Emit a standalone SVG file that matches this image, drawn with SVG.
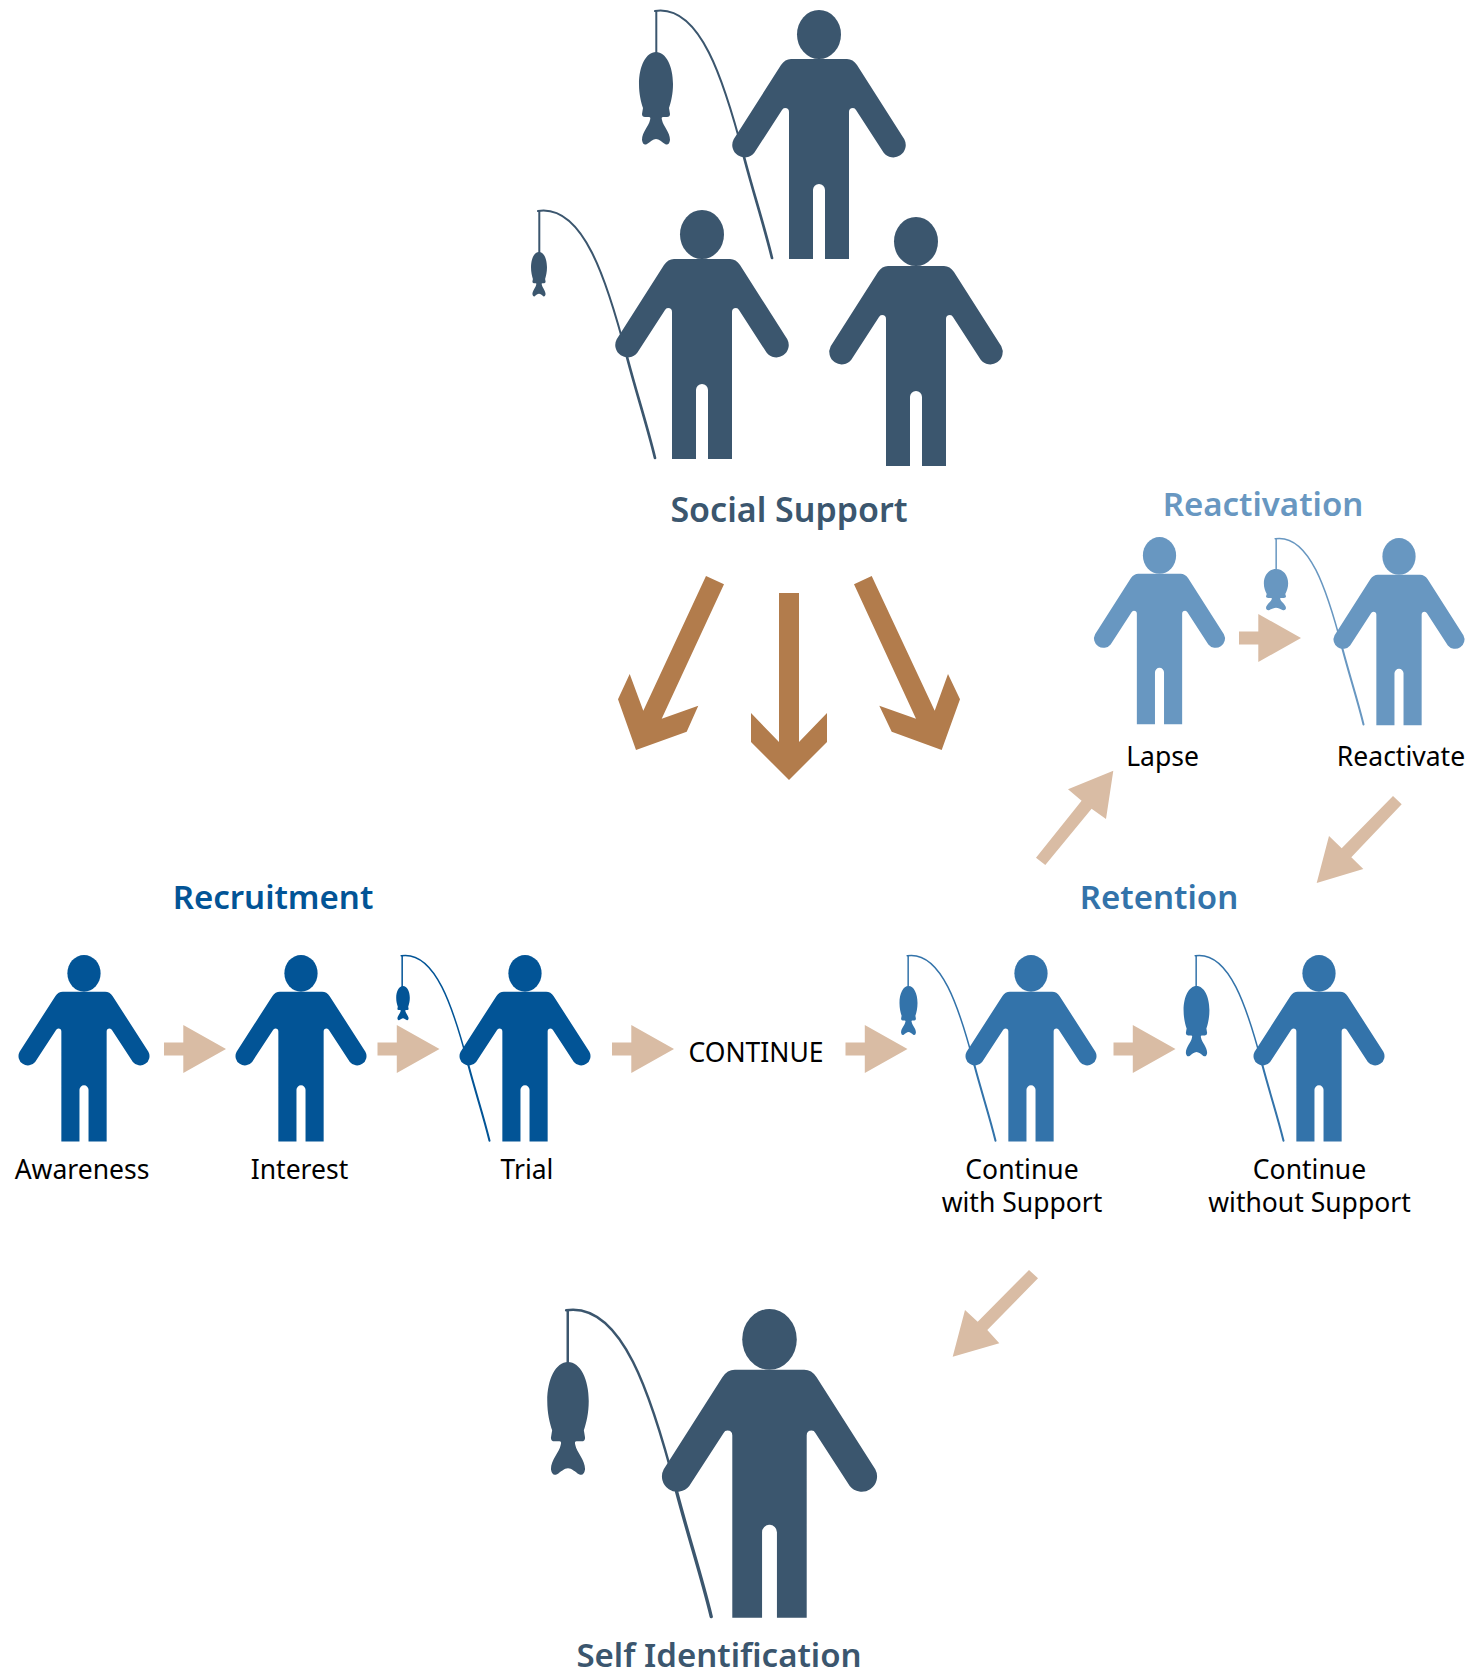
<svg xmlns="http://www.w3.org/2000/svg" width="1483" height="1668" viewBox="0 0 1483 1668">
<style>
text{font-family:"Noto Sans","Open Sans","Liberation Sans",sans-serif}
.l{font-size:26.5px;fill:#000;text-anchor:middle}
.h{font-size:33px;font-weight:600;text-anchor:middle}
.a{fill:#d9bca4}
.b{fill:#b27c4c}
.rod{fill:none;stroke:currentColor;stroke-linecap:round}
.dark{fill:#3b566e;color:#3b566e}
.navy{fill:#025496;color:#025496}
.mid{fill:#3373aa;color:#3373aa}
.light{fill:#6897c1;color:#6897c1}
</style>
<defs>
<g id="person"><ellipse cx="0" cy="24.5" rx="22" ry="24.5"/><path d="M-30,249V102Q-30,98 -34,98Q-36,98 -37,100L-64.700,142.800A12.400,12.400 0 0 1 -85.300,129.200L-38,55Q-34,49 -28,49H28Q34,49 38,55L85.300,129.200A12.400,12.400 0 0 1 64.700,142.800L37,100Q36,98 34,98Q30,98 30,102V249H6V180A6,6 0 0 0 -6,180V249Z"/></g>
<g id="rod"><path class="rod" stroke-width="2" d="M-164,1C-119,-6 -95,70 -75,147"/><path class="rod" stroke-width="2.700" d="M-75,147C-65,185 -55,215 -47,248"/><path class="rod" stroke-width="2" d="M-162.700,1V44"/></g>
<path id="fish" d="M0,0C10,0 17,14 17,32C17,42 15,50 13,56L14,62Q14,65 11,65L7,65Q5,65 6,68C7,74 14,80 14,88Q13,94 9,92C6,90 3,87 0,87C-3,87 -6,90 -9,92Q-13,94 -14,88C-14,80 -7,74 -6,68Q-5,65 -7,65L-11,65Q-14,65 -14,62L-13,56C-15,50 -17,42 -17,32C-17,14 -10,0 0,0Z"/>
<path id="sm" d="M0,-6.500H19.300V-24L62,0L19.300,24V6.500H0Z"/>
</defs>
<g id="connectors">
<polygon class="b" points="706,576 724,584.300 661.700,718.700 698.300,705.700 686.700,731.700 636,750 618,699.300 629.700,674 643.300,710.700"/>
<polygon class="b" points="779,593 799,593 799,742 827,713 827,742 789,780 751,742 751,713 779,742"/>
<polygon class="b" points="854,584.300 871.700,576 934.700,710.700 948,674 960,699.300 941.700,750 891.700,731.700 879.300,705.700 916,718.700"/>
<use href="#sm" class="a" x="164" y="1049"/>
<use href="#sm" class="a" x="377.500" y="1049"/>
<use href="#sm" class="a" x="612" y="1049"/>
<use href="#sm" class="a" x="845.500" y="1049"/>
<use href="#sm" class="a" x="1113.500" y="1049"/>
<use href="#sm" class="a" x="1239" y="638"/>
<polygon class="a" points="1036,857.700 1045.300,865 1091.600,808.700 1106,819 1113.300,770.700 1068,789.300 1081.600,800.700"/>
<polygon class="a" points="1393,796 1401.700,804.300 1351.300,857.300 1363.300,869 1316.700,883 1329,836 1341.700,848.300"/>
<polygon class="a" points="1029,1270 1038,1278.300 987.300,1330 999.300,1343.300 952.700,1356.700 965,1310 977.700,1321.700"/>
</g>
<g id="social-1" class="dark"><g transform="translate(819,10)"><use href="#rod"/><use href="#person"/></g><use href="#fish" transform="translate(656,52)"/></g>
<g id="social-2" class="dark"><g transform="translate(702,210)"><use href="#rod"/><use href="#person"/></g><use href="#fish" transform="translate(539,252) scale(.47,.48)"/></g>
<g id="social-3" class="dark"><use href="#person" transform="translate(916,217)"/></g>
<text class="h dark" x="789" y="522" style="font-size:34px">Social Support</text>
<text class="h light" x="1263" y="516">Reactivation</text>
<text class="h navy" x="273" y="909">Recruitment</text>
<text class="h mid" x="1159" y="909">Retention</text>
<g id="awareness" class="navy"><use href="#person" transform="translate(84,955) scale(.755,.749)"/><text class="l" x="82" y="1179" style="fill:#000">Awareness</text></g>
<g id="interest" class="navy"><use href="#person" transform="translate(301,955) scale(.755,.749)"/><text class="l" x="299.500" y="1179" style="fill:#000">Interest</text></g>
<g id="trial" class="navy"><g transform="translate(525,955) scale(.755,.749)"><use href="#rod"/><use href="#person"/></g><use href="#fish" transform="translate(403,986) scale(.4,.37)"/><text class="l" x="527" y="1179" style="fill:#000">Trial</text></g>
<text id="continue" class="l" x="756" y="1062">CONTINUE</text>
<g id="with-support" class="mid"><g transform="translate(1031,955) scale(.755,.749)"><use href="#rod"/><use href="#person"/></g><use href="#fish" transform="translate(908.500,986) scale(.53,.53)"/><text class="l" x="1022" y="1179" style="fill:#000">Continue</text><text class="l" x="1022" y="1212" style="fill:#000">with Support</text></g>
<g id="without-support" class="mid"><g transform="translate(1319,955) scale(.755,.749)"><use href="#rod"/><use href="#person"/></g><use href="#fish" transform="translate(1196.500,986) scale(.76,.76)"/><text class="l" x="1309.500" y="1179" style="fill:#000">Continue</text><text class="l" x="1309.500" y="1212" style="fill:#000">without Support</text></g>
<g id="lapse" class="light"><use href="#person" transform="translate(1159.500,537) scale(.755,.752)"/><text class="l" x="1162.500" y="766" style="fill:#000">Lapse</text></g>
<g id="reactivate" class="light"><g transform="translate(1399,538) scale(.755,.752)"><use href="#rod"/><use href="#person"/></g><use href="#fish" transform="translate(1276,569) scale(.715,.445)"/><text class="l" x="1401" y="766" style="fill:#000">Reactivate</text></g>
<g id="self-identification" class="dark"><g transform="translate(769.500,1309) scale(1.24)"><use href="#rod"/><use href="#person"/></g><use href="#fish" transform="translate(568,1362) scale(1.22)"/><text class="h" x="719" y="1667" style="fill:#3b566e">Self Identification</text></g>
</svg>
